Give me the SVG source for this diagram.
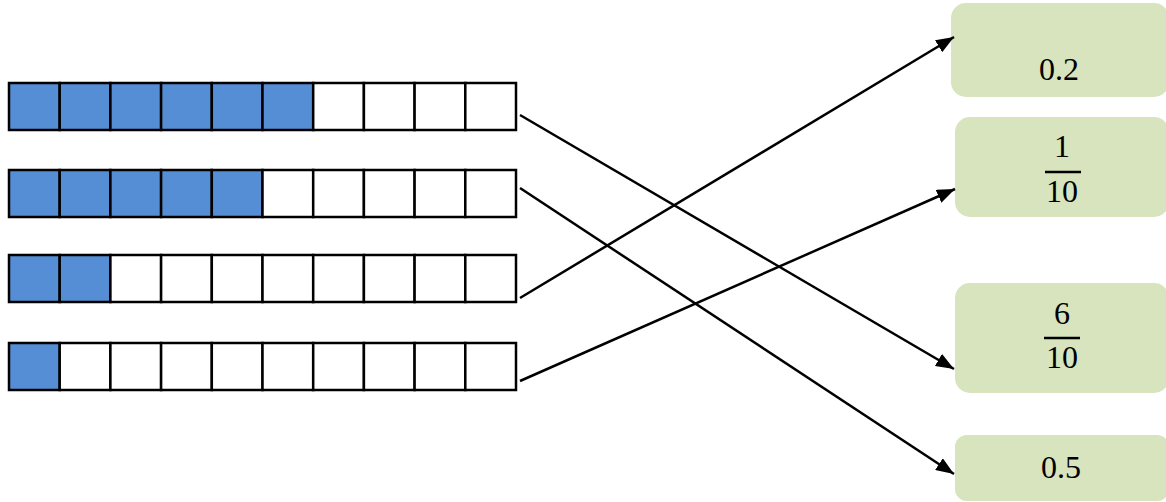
<svg xmlns="http://www.w3.org/2000/svg" width="1166" height="502" viewBox="0 0 1166 502">
<style>
.c{stroke:#000;stroke-width:2.5}
.f{fill:#558ED5}
.e{fill:#FFFFFF}
.box{fill:#D7E4BD}
.t{font-family:"Liberation Serif","DejaVu Serif",serif;font-size:32px;fill:#000;text-anchor:middle}
.bar{stroke:#000;stroke-width:2.5}
.ln{stroke:#000;stroke-width:2.5;fill:none;marker-end:url(#ah)}
</style>
<defs>
<marker id="ah" markerUnits="userSpaceOnUse" markerWidth="20" markerHeight="14" refX="18" refY="7" orient="auto">
<path d="M0,0 L18,7 L0,14 Z" fill="#000"/>
</marker>
</defs>
<g id="bar1">
<rect class="c f" x="9" y="83" width="50.7" height="47"/>
<rect class="c f" x="59.7" y="83" width="50.7" height="47"/>
<rect class="c f" x="110.4" y="83" width="50.7" height="47"/>
<rect class="c f" x="161.1" y="83" width="50.7" height="47"/>
<rect class="c f" x="211.8" y="83" width="50.7" height="47"/>
<rect class="c f" x="262.5" y="83" width="50.7" height="47"/>
<rect class="c e" x="313.2" y="83" width="50.7" height="47"/>
<rect class="c e" x="363.9" y="83" width="50.7" height="47"/>
<rect class="c e" x="414.6" y="83" width="50.7" height="47"/>
<rect class="c e" x="465.3" y="83" width="50.7" height="47"/>
</g>
<g id="bar2">
<rect class="c f" x="9" y="170" width="50.7" height="47"/>
<rect class="c f" x="59.7" y="170" width="50.7" height="47"/>
<rect class="c f" x="110.4" y="170" width="50.7" height="47"/>
<rect class="c f" x="161.1" y="170" width="50.7" height="47"/>
<rect class="c f" x="211.8" y="170" width="50.7" height="47"/>
<rect class="c e" x="262.5" y="170" width="50.7" height="47"/>
<rect class="c e" x="313.2" y="170" width="50.7" height="47"/>
<rect class="c e" x="363.9" y="170" width="50.7" height="47"/>
<rect class="c e" x="414.6" y="170" width="50.7" height="47"/>
<rect class="c e" x="465.3" y="170" width="50.7" height="47"/>
</g>
<g id="bar3">
<rect class="c f" x="9" y="255" width="50.7" height="47"/>
<rect class="c f" x="59.7" y="255" width="50.7" height="47"/>
<rect class="c e" x="110.4" y="255" width="50.7" height="47"/>
<rect class="c e" x="161.1" y="255" width="50.7" height="47"/>
<rect class="c e" x="211.8" y="255" width="50.7" height="47"/>
<rect class="c e" x="262.5" y="255" width="50.7" height="47"/>
<rect class="c e" x="313.2" y="255" width="50.7" height="47"/>
<rect class="c e" x="363.9" y="255" width="50.7" height="47"/>
<rect class="c e" x="414.6" y="255" width="50.7" height="47"/>
<rect class="c e" x="465.3" y="255" width="50.7" height="47"/>
</g>
<g id="bar4">
<rect class="c f" x="9" y="343" width="50.7" height="47"/>
<rect class="c e" x="59.7" y="343" width="50.7" height="47"/>
<rect class="c e" x="110.4" y="343" width="50.7" height="47"/>
<rect class="c e" x="161.1" y="343" width="50.7" height="47"/>
<rect class="c e" x="211.8" y="343" width="50.7" height="47"/>
<rect class="c e" x="262.5" y="343" width="50.7" height="47"/>
<rect class="c e" x="313.2" y="343" width="50.7" height="47"/>
<rect class="c e" x="363.9" y="343" width="50.7" height="47"/>
<rect class="c e" x="414.6" y="343" width="50.7" height="47"/>
<rect class="c e" x="465.3" y="343" width="50.7" height="47"/>
</g>
<g id="box-02">
<rect class="box" x="951" y="3" width="218" height="94" rx="15"/>
<text class="t" x="1059" y="80">0.2</text>
</g>
<g id="box-1-10">
<rect class="box" x="955" y="117" width="214" height="100" rx="15"/>
<text class="t" x="1062" y="157">1</text>
<line class="bar" x1="1045" y1="172" x2="1081" y2="172"/>
<text class="t" x="1062" y="202">10</text>
</g>
<g id="box-6-10">
<rect class="box" x="955" y="283" width="214" height="110" rx="15"/>
<text class="t" x="1062" y="324">6</text>
<line class="bar" x1="1044" y1="338" x2="1080" y2="338"/>
<text class="t" x="1062" y="368">10</text>
</g>
<g id="box-05">
<rect class="box" x="955" y="435" width="214" height="66" rx="12"/>
<text class="t" x="1061" y="478">0.5</text>
</g>
<g id="connectors">
<line class="ln" x1="520" y1="115" x2="954" y2="369"/>
<line class="ln" x1="520" y1="188" x2="954" y2="474"/>
<line class="ln" x1="520" y1="298" x2="954" y2="37"/>
<line class="ln" x1="520" y1="381" x2="955" y2="189"/>
</g>
</svg>
